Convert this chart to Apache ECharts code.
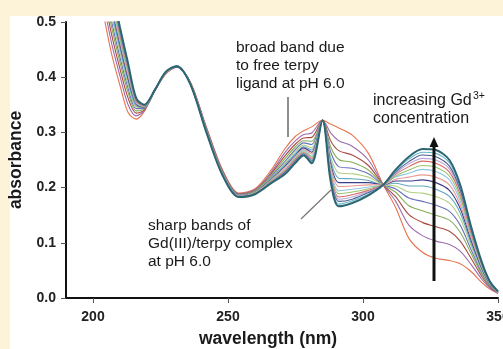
<!DOCTYPE html>
<html>
<head>
<meta charset="utf-8">
<title>Gd titration spectra</title>
<script src="https://cdn.jsdelivr.net/npm/echarts@6.0.0/dist/echarts.min.js"></script>
<style>
  html, body { margin: 0; padding: 0; background: #fdf3d8; }
  #chart { width: 503px; height: 349px; }
</style>
</head>
<body>
<div id="chart"></div>
<script>
// wavelength grid (nm) shared by all spectra
const wavelengths = [200, 204, 207, 210, 213, 216, 219, 223, 227, 231, 236, 242, 248, 254, 260, 266, 271, 275,
  278, 281, 285, 288, 291, 296, 302, 307.5, 312, 317, 322, 327, 332, 336, 340, 344, 347, 350];

// absorbance, from free ligand (lowest Gd3+) to highest Gd3+ concentration
const spec01 = [.600,.510,.440,.385,.336,.324,.338,.376,.406,.418,.392,.310,.232,.190,.198,.232,.270,.293,.303,.310,.322,.315,.308,.295,.262,.205,.165,.108,.083,.072,.068,.062,.048,.028,.016,.008];
const spec02 = [.626,.531,.459,.402,.350,.330,.340,.376,.407,.418,.391,.308,.230,.189,.196,.228,.263,.285,.296,.299,.322,.299,.285,.275,.250,.205,.176,.132,.113,.103,.097,.085,.061,.034,.018,.009];
const spec03 = [.646,.548,.475,.415,.362,.335,.341,.377,.407,.419,.391,.307,.229,.188,.195,.225,.257,.279,.290,.291,.322,.285,.267,.259,.240,.205,.184,.151,.137,.129,.121,.103,.072,.039,.020,.009];
const spec04 = [.664,.562,.488,.427,.372,.339,.343,.377,.408,.419,.390,.306,.228,.187,.194,.222,.252,.274,.285,.284,.322,.274,.251,.246,.232,.205,.192,.167,.158,.150,.141,.119,.081,.043,.022,.010];
const spec05 = [.678,.574,.499,.436,.380,.343,.344,.377,.408,.419,.390,.305,.227,.187,.193,.220,.247,.269,.281,.278,.322,.265,.238,.235,.225,.205,.198,.181,.175,.168,.157,.132,.088,.046,.023,.010];
const spec06 = [.691,.584,.508,.445,.387,.346,.345,.377,.408,.419,.390,.304,.226,.186,.192,.218,.244,.266,.277,.272,.322,.256,.227,.225,.219,.205,.203,.192,.190,.184,.172,.144,.095,.049,.024,.010];
const spec07 = [.702,.593,.517,.452,.393,.348,.346,.377,.409,.419,.389,.304,.226,.186,.192,.217,.241,.262,.274,.268,.322,.249,.217,.216,.213,.205,.208,.203,.203,.197,.184,.154,.100,.052,.025,.011];
const spec08 = [.712,.601,.524,.459,.398,.351,.346,.377,.409,.419,.389,.303,.225,.185,.191,.215,.238,.259,.272,.264,.322,.243,.209,.209,.209,.205,.212,.212,.214,.209,.195,.162,.105,.054,.026,.011];
const spec09 = [.720,.608,.530,.464,.403,.353,.347,.378,.409,.420,.389,.303,.225,.185,.191,.214,.236,.257,.269,.261,.322,.238,.202,.203,.205,.205,.215,.219,.223,.219,.205,.169,.110,.056,.027,.011];
const spec10 = [.728,.614,.536,.469,.407,.354,.348,.378,.409,.420,.389,.302,.224,.184,.190,.213,.233,.255,.267,.257,.322,.233,.194,.197,.201,.205,.219,.226,.233,.229,.214,.176,.114,.058,.027,.011];
const spec11 = [.734,.619,.541,.473,.411,.356,.348,.378,.409,.420,.389,.302,.224,.184,.190,.212,.231,.253,.265,.255,.322,.228,.189,.192,.198,.205,.221,.232,.240,.237,.221,.182,.117,.059,.028,.011];
const spec12 = [.741,.624,.546,.477,.414,.357,.349,.378,.410,.420,.388,.301,.223,.184,.189,.211,.230,.251,.263,.252,.322,.224,.183,.187,.195,.205,.224,.238,.248,.244,.228,.188,.120,.061,.028,.012];
const spec13 = [.746,.628,.549,.481,.417,.359,.349,.378,.410,.420,.388,.301,.223,.184,.189,.210,.228,.249,.262,.250,.322,.221,.179,.183,.193,.205,.226,.243,.253,.250,.234,.192,.123,.062,.029,.012];
const spec14 = [.750,.632,.553,.484,.420,.360,.349,.378,.410,.420,.388,.301,.223,.183,.189,.209,.227,.248,.261,.248,.322,.218,.175,.179,.191,.205,.228,.247,.259,.256,.239,.196,.125,.063,.029,.012];
const spec15 = [.755,.636,.556,.487,.422,.361,.350,.378,.410,.420,.388,.300,.222,.183,.188,.209,.225,.246,.259,.246,.322,.215,.170,.176,.188,.205,.230,.252,.264,.262,.245,.201,.128,.064,.030,.012];
const spec16 = [.760,.640,.560,.490,.425,.362,.350,.378,.410,.420,.388,.300,.222,.183,.188,.208,.224,.245,.258,.244,.322,.212,.166,.172,.186,.205,.232,.256,.270,.268,.250,.205,.130,.065,.030,.012];

const spectra = [spec01, spec02, spec03, spec04, spec05, spec06, spec07, spec08,
  spec09, spec10, spec11, spec12, spec13, spec14, spec15, spec16];
const colors = ['#e8734f', '#9a6cae', '#a94b43', '#86ad5a', '#6b73b9', '#b2cf85', '#5fa8c0', '#3c3f8c',
  '#ea9a92', '#8ec6e4', '#9cc46e', '#d86a66', '#b8a6d8', '#4f5d90', '#62b9c6', '#2d6673'];

const xTicks = [200, 250, 300, 350];

const chart = echarts.init(document.getElementById('chart'));

const series = spectra.map((s, k) => ({
  type: 'line',
  name: 'spectrum ' + (k + 1),
  data: wavelengths.map((w, i) => [w, s[i]]),
  showSymbol: false,
  smooth: 0.3,
  clip: true,
  lineStyle: {
    color: colors[k],
    width: k === spectra.length - 1 ? 2 : 1.1,
  },
  z: 2 + k,
}));

const font = 'Arial, Liberation Sans, sans-serif';

const option = {
  backgroundColor: '#fdf3d8',
  animation: false,
  grid: { left: 66, right: 5, top: 22, bottom: 51, containLabel: false, outerBoundsMode: 'none' },
  xAxis: {
    type: 'value',
    min: 190,
    max: 350,
    name: 'wavelength (nm)',
    nameLocation: 'middle',
    nameGap: 32,
    nameTextStyle: {
      fontFamily: font,
      fontWeight: 'bold',
      fontSize: 17.5,
      color: '#1a1a1a',
      padding: [0, 28, 0, 0],
    },
    axisLine: { lineStyle: { color: '#111', width: 2 } },
    axisTick: { customValues: xTicks, length: 5, lineStyle: { color: '#555', width: 1 } },
    axisLabel: {
      customValues: xTicks,
      margin: 12,
      fontFamily: font,
      fontWeight: 'bold',
      fontSize: 14,
      color: '#222',
    },
    splitLine: { show: false },
  },
  yAxis: {
    type: 'value',
    min: 0,
    max: 0.5,
    interval: 0.1,
    name: 'absorbance',
    nameLocation: 'middle',
    nameGap: 40,
    nameTextStyle: {
      fontFamily: font,
      fontWeight: 'bold',
      fontSize: 17.5,
      color: '#1a1a1a',
    },
    axisLine: { show: true, lineStyle: { color: '#111', width: 2 } },
    axisTick: { show: true, length: 5, lineStyle: { color: '#555', width: 1 } },
    axisLabel: {
      margin: 10,
      formatter: v => v.toFixed(1),
      fontFamily: font,
      fontWeight: 'bold',
      fontSize: 14,
      color: '#222',
    },
    splitLine: { show: false },
  },
  graphic: [
    // white panel
    { type: 'rect', z: -10, silent: true, shape: { x: 10, y: 16, width: 493, height: 333 }, style: { fill: '#ffffff' } },
    {
      type: 'text', z: 100, x: 236, y: 66,
      style: {
        text: 'broad band due\nto free terpy\nligand at pH 6.0',
        fontFamily: font, fontSize: 15.5, lineHeight: 18,
        fill: '#1a1a1a', verticalAlign: 'middle',
      },
    },
    { type: 'line', z: 100, shape: { x1: 288, y1: 97, x2: 288, y2: 137 }, style: { stroke: '#444', lineWidth: 1.2 } },
    {
      type: 'text', z: 100, x: 373, y: 110,
      style: {
        text: 'increasing Gd\nconcentration',
        fontFamily: font, fontSize: 16, lineHeight: 18,
        fill: '#1a1a1a', verticalAlign: 'middle',
      },
    },
    {
      type: 'text', z: 100, x: 473, y: 96,
      style: {
        text: '3+', fontFamily: font, fontSize: 10.5,
        fill: '#1a1a1a', verticalAlign: 'middle',
      },
    },
    { type: 'line', z: 100, shape: { x1: 434, y1: 281, x2: 434, y2: 144 }, style: { stroke: '#111', lineWidth: 3 } },
    { type: 'polygon', z: 100, shape: { points: [[434, 137], [429.5, 147], [438.5, 147]] }, style: { fill: '#111' } },
    {
      type: 'text', z: 100, x: 148, y: 244,
      style: {
        text: 'sharp bands of\nGd(III)/terpy complex\nat pH 6.0',
        fontFamily: font, fontSize: 15.5, lineHeight: 18,
        fill: '#1a1a1a', verticalAlign: 'middle',
      },
    },
    { type: 'line', z: 100, shape: { x1: 301, y1: 219, x2: 332, y2: 189 }, style: { stroke: '#777', lineWidth: 1.2 } },
  ],
  series: series,
};

chart.setOption(option);
</script>
</body>
</html>
